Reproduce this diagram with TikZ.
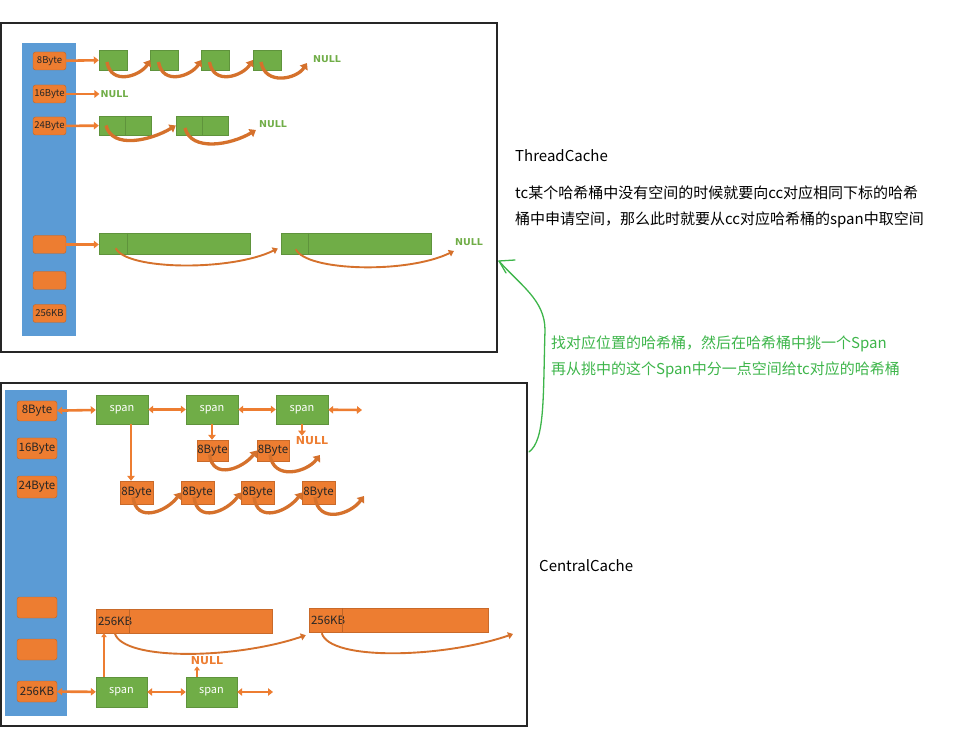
\documentclass[tikz,border=0pt]{standalone}
\usepackage{fontspec}
\setmainfont{Noto Sans CJK SC}
\newfontfamily\nulltext{DejaVu Sans}
\usetikzlibrary{arrows.meta}
\definecolor{cblue}{HTML}{5B9BD5}
\definecolor{corange}{HTML}{ED7D31}
\definecolor{cgreen}{HTML}{70AD47}
\definecolor{hgreen}{HTML}{3DB54A}

\begin{document}
\begin{tikzpicture}[x=1pt, y=-1pt,
    frame/.style={draw=black!85, line width=1.6pt},
    sizebox/.style={draw=corange!80!black, fill=corange, rounded corners=2.5pt, inner sep=0pt,
      minimum width=33pt, minimum height=18pt, text=black!85, font=\fontsize{9.5}{9.5}\selectfont},
    blk/.style={draw=cgreen!85!black, fill=cgreen, line width=0.4pt, inner sep=0pt, minimum height=20pt},
    spanbox/.style={draw=cgreen!85!black, fill=cgreen, inner sep=0pt, minimum width=52pt,
      minimum height=29pt, text=white, font=\fontsize{11}{11}\selectfont},
    objbox/.style={draw=corange!85!black, fill=corange, inner sep=0pt, minimum width=33pt,
      minimum height=23pt, text=black!85, font=\fontsize{11.5}{11.5}\selectfont},
    bar/.style={draw=corange!85!black, fill=corange, inner sep=0pt, minimum height=24pt},
    gnull/.style={text=cgreen, inner sep=1pt, font=\nulltext\bfseries\fontsize{9.5}{9.5}\selectfont},
    onull/.style={text=corange, inner sep=1pt, font=\nulltext\bfseries\fontsize{11}{11}\selectfont},
    link/.style={draw=corange, line width=2.6pt, -{Triangle[length=5pt,width=7.5pt]}},
    dlink/.style={draw=corange, line width=2.6pt, {Triangle[length=5pt,width=7.5pt]}-{Triangle[length=5pt,width=7.5pt]}},
    hop/.style={draw=corange!90!black, line width=3.3pt, -{Triangle[length=6pt,width=9pt]}},
    longhop/.style={draw=corange!90!black, line width=1.9pt, -{Triangle[length=5pt,width=7pt]}},
    divider/.style={draw=cgreen!85!black, line width=0.4pt},
    txt/.style={anchor=west, inner sep=0pt, font=\fontsize{15}{15}\selectfont}]
    \useasboundingbox (0,0) rectangle (962,735);

    % ThreadCache
    \draw[frame] (1,23) rectangle (497,352);
    \fill[cblue] (22,43) rectangle (76,336);
    \node[sizebox] (tb8) at (49.5,61) {8Byte};
    \node[sizebox] (tb16) at (49.5,94) {16Byte};
    \node[sizebox] (tb24) at (49.5,126) {24Byte};
    \node[sizebox] (tbA) at (49.5,244.5) {};
    \node[sizebox] (tbB) at (49.5,280.5) {};
    \node[sizebox] (tb256) at (49.5,313.5) {256KB};

    \node[blk, minimum width=28pt] (g1) at (113,60) {};
    \node[blk, minimum width=28pt] (g2) at (164.5,60) {};
    \node[blk, minimum width=28pt] (g3) at (215.5,60) {};
    \node[blk, minimum width=28pt] (g4) at (267,60) {};
    \node[gnull] (n8) at (327,59) {NULL};
    \node[gnull] (n16) at (114.5,94) {NULL};
    \node[blk, minimum width=52pt, minimum height=19pt] (h1) at (125,125.5) {};
    \node[blk, minimum width=52pt, minimum height=19pt] (h2) at (202,125.5) {};
    \node[gnull] (n24) at (273,124) {NULL};
    \node[blk, minimum width=151pt, minimum height=21pt] (k1) at (174.5,243.5) {};
    \node[blk, minimum width=150pt, minimum height=21pt] (k2) at (356,243.5) {};
    \node[gnull] (nA) at (469,242) {NULL};
    \draw[divider] (h1.north) -- (h1.south);
    \draw[divider] (h2.north) -- (h2.south);
    \draw[divider] ([xshift=28pt]k1.north west) -- ([xshift=28pt]k1.south west);
    \draw[divider] ([xshift=27pt]k2.north west) -- ([xshift=27pt]k2.south west);

    \draw[link] (tb8) -- (g1);
    \draw[link] (tb16) -- (n16);
    \draw[link] (tb24) -- (h1);
    \draw[link] (tbA) -- (tbA -| k1.west);
    \foreach \a/\b in {g1/g2, g2/g3, g3/g4}
        \draw[hop] ([xshift=-6pt,yshift=-2pt]\a.center) .. controls +(4,24) and +(-10,16) .. (\b.west);
    \draw[hop] ([xshift=-6pt,yshift=-2pt]g4.center) .. controls +(4,24) and +(-10,16) .. ([xshift=-5pt,yshift=-4pt]n8.west);
    \draw[hop] ([xshift=-19pt]h1.center) .. controls +(6,24) and +(-25,15) .. (h2.west);
    \draw[hop] ([xshift=-17pt,yshift=-2.5pt]h2.center) .. controls +(6,24) and +(-25,15) .. ([xshift=-2pt,yshift=-6pt]n24.west);
    \draw[longhop] ([xshift=17pt,yshift=6pt]k1.south west) .. controls +(10,22) and +(-47,23) .. ([xshift=-3pt,yshift=-5pt]k2.west);
    \draw[longhop] ([xshift=15pt,yshift=5pt]k2.south west) .. controls +(10,22) and +(-47,23) .. ([yshift=-9pt]nA.west);

    \node[txt] (tcname) at (515,156) {ThreadCache};
    \node[txt] (tcline1) at (515,193) {tc某个哈希桶中没有空间的时候就要向cc对应相同下标的哈希};
    \node[txt] (tcline2) at (515,220) {桶中申请空间，那么此时就要从cc对应哈希桶的span中取空间};

    % CentralCache
    \draw[frame] (1,383) rectangle (527,726);
    \fill[cblue] (5,390) rectangle (67,716);
    \node[sizebox, minimum width=40pt, minimum height=20pt, font=\fontsize{11.5}{11.5}\selectfont] (c8) at (37,411) {8Byte};
    \node[sizebox, minimum width=40pt, minimum height=21pt, font=\fontsize{11.5}{11.5}\selectfont] (c16) at (37,448.5) {16Byte};
    \node[sizebox, minimum width=40pt, minimum height=22pt, font=\fontsize{11.5}{11.5}\selectfont] (c24) at (37,487) {24Byte};
    \node[sizebox, minimum width=40pt, minimum height=21pt] (cA) at (37,607.5) {};
    \node[sizebox, minimum width=40pt, minimum height=21pt] (cB) at (37,649.5) {};
    \node[sizebox, minimum width=40pt, minimum height=21pt, font=\fontsize{11.5}{11.5}\selectfont] (c256) at (37,691.5) {256KB};

    \node[spanbox] (s1) at (122,409.5) {span};
    \node[spanbox] (s2) at (212,409.5) {span};
    \node[spanbox] (s3) at (302,409.5) {span};
    \coordinate (se) at (362,410);
    \node[objbox, minimum width=31pt, minimum height=21pt] (a1) at (212.5,450.5) {8Byte};
    \node[objbox, minimum width=32pt, minimum height=21pt] (a2) at (273,450.5) {8Byte};
    \node[onull] (ns) at (312,441) {NULL};
    \coordinate (ae) at (320,455);
    \node[objbox] (b1) at (136.5,492.5) {8Byte};
    \node[objbox] (b2) at (197.5,492.5) {8Byte};
    \node[objbox] (b3) at (257.5,492.5) {8Byte};
    \node[objbox] (b4) at (318.5,492.5) {8Byte};
    \coordinate (be) at (364,496);

    \draw[dlink] (c8) -- (s1);
    \draw[dlink] (s1) -- (s2);
    \draw[dlink] (s2) -- (s3);
    \draw[dlink] (s3) -- (se);
    \draw[link] ([xshift=9pt]s1.south) -- ([xshift=9pt]s1.south |- b1.north);
    \draw[link, line width=2.2pt] (s2.south) -- (s2.south |- a1.north);
    \draw[link, line width=2.2pt] (s3.south) -- (s3.south |- ns.north);
    \draw[hop] ([xshift=-3pt,yshift=-4pt]a1.center) .. controls +(3,26) and +(-14,18) .. (a2.west);
    \draw[hop] ([xshift=-3pt,yshift=-4pt]a2.center) .. controls +(3,26) and +(-14,18) .. (ae);
    \foreach \a/\b in {b1/b2, b2/b3, b3/b4}
        \draw[hop] ([xshift=-3.5pt,yshift=-4.5pt]\a.center) .. controls +(3,27) and +(-14,19) .. (\b.west);
    \draw[hop] ([xshift=-3.5pt,yshift=-4.5pt]b4.center) .. controls +(3,27) and +(-14,19) .. (be);

    \node[bar, minimum width=176pt, label={[anchor=west, inner sep=2pt, text=black!85, font=\fontsize{11.5}{11.5}\selectfont]west:256KB}] (r1) at (184,621) {};
    \node[bar, minimum width=179pt, label={[anchor=west, inner sep=2pt, text=black!85, font=\fontsize{11.5}{11.5}\selectfont]west:256KB}] (r2) at (398.5,620) {};
    \draw[draw=corange!80!black, line width=0.4pt] ([xshift=33pt]r1.north west) -- ([xshift=33pt]r1.south west);
    \draw[draw=corange!80!black, line width=0.4pt] ([xshift=33pt]r2.north west) -- ([xshift=33pt]r2.south west);
    \coordinate (re) at (513,634);
    \draw[longhop] ([xshift=19pt]r1.south west) .. controls +(8,28) and +(-70,24) .. ([xshift=-3pt,yshift=-3pt]r2.south west);
    \draw[longhop] ([xshift=13pt,yshift=-1pt]r2.south west) .. controls +(8,28) and +(-70,24) .. (re);

    \node[spanbox, minimum width=51pt, minimum height=30pt] (t1) at (121.5,692) {span};
    \node[spanbox, minimum width=51pt, minimum height=30pt] (t2) at (211.5,692) {span};
    \node[onull] (nt) at (207,661) {NULL};
    \coordinate (te) at (273,692);
    \draw[dlink] (c256) -- (t1);
    \draw[dlink] (t1) -- (t2);
    \draw[dlink] (t2) -- (te);
    \draw[link, line width=1.8pt, -{Triangle[length=4pt,width=5.5pt]}] ([xshift=-17.5pt]t1.north) -- ([xshift=-17.5pt]t1.north |- r1.south);
    \draw[link, line width=1.8pt, -{Triangle[length=4pt,width=5.5pt]}] ([xshift=-14.5pt]t2.north) -- ([xshift=-14.5pt]t2.north |- nt.south);

    \node[txt] (ccname) at (539,566) {CentralCache};

    % hand-drawn arrow and note
    \coordinate (handS) at (529,452);
    \coordinate (handT) at (499,261);
    \draw[hgreen, line width=1.3pt, line cap=round] (handS) .. controls (545,440) and (543,400) .. (545,330)
        .. controls (545,300) and (520,285) .. (handT);
    \draw[hgreen, line width=1.3pt, line cap=round] (handT) -- +(16,-1);
    \draw[hgreen, line width=1.3pt, line cap=round] (handT) -- +(7,12);
    \node[txt, text=hgreen] (note1) at (551,344) {找对应位置的哈希桶，然后在哈希桶中挑一个Span};
    \node[txt, text=hgreen] (note2) at (551,370) {再从挑中的这个Span中分一点空间给tc对应的哈希桶};
\end{tikzpicture}
\end{document}
